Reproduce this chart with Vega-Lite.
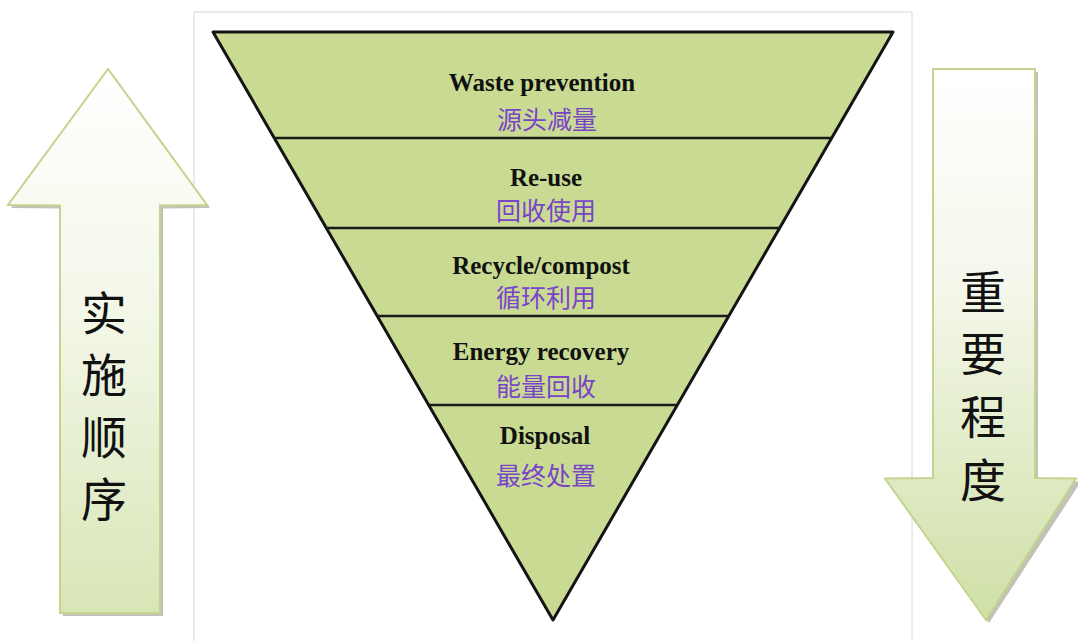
{
  "$schema": "https://vega.github.io/schema/vega-lite/v6.json",
  "width": 1078,
  "height": 641,
  "autosize": {"type": "none"},
  "padding": 0,
  "background": "white",
  "config": {"view": {"stroke": null}},
  "datasets": {
    "panel": [{"x": 194, "x2": 912, "y": 12, "y2": 650}],
    "upShadow": [
      {"y": 72, "x": 111, "x2": 111},
      {"y": 208, "x": 11, "x2": 210},
      {"y": 208.5, "x": 63, "x2": 163},
      {"y": 616, "x": 63, "x2": 163}
    ],
    "up": [
      {"y": 69, "x": 108, "x2": 108},
      {"y": 205, "x": 8, "x2": 207},
      {"y": 205.5, "x": 60, "x2": 160},
      {"y": 613, "x": 60, "x2": 160}
    ],
    "downShadow": [
      {"y": 72, "x": 936, "x2": 1038},
      {"y": 481, "x": 936, "x2": 1038},
      {"y": 481.5, "x": 888, "x2": 1081},
      {"y": 623, "x": 989, "x2": 989}
    ],
    "down": [
      {"y": 69, "x": 933, "x2": 1035},
      {"y": 478, "x": 933, "x2": 1035},
      {"y": 478.5, "x": 885, "x2": 1076},
      {"y": 620, "x": 986, "x2": 986}
    ],
    "triangle": [
      {"y": 32, "x": 213, "x2": 893},
      {"y": 620, "x": 553, "x2": 553}
    ],
    "dividers": [
      {"y": 138, "x": 274, "x2": 832},
      {"y": 228, "x": 326, "x2": 780},
      {"y": 316, "x": 377, "x2": 729},
      {"y": 405, "x": 429, "x2": 677}
    ],
    "english": [
      {"label": "Waste prevention", "x": 542, "y": 83},
      {"label": "Re-use", "x": 546, "y": 178},
      {"label": "Recycle/compost", "x": 541, "y": 266},
      {"label": "Energy recovery", "x": 541, "y": 352},
      {"label": "Disposal", "x": 545, "y": 436}
    ],
    "chinese": [
      {"label": "源头减量", "x": 547, "y": 121},
      {"label": "回收使用", "x": 546, "y": 212},
      {"label": "循环利用", "x": 546, "y": 299},
      {"label": "能量回收", "x": 546, "y": 388},
      {"label": "最终处置", "x": 546, "y": 477}
    ],
    "vertical": [
      {"label": "实", "x": 104, "y": 316},
      {"label": "施", "x": 104, "y": 378},
      {"label": "顺", "x": 104, "y": 440},
      {"label": "序", "x": 104, "y": 502},
      {"label": "重", "x": 983, "y": 295},
      {"label": "要", "x": 983, "y": 357},
      {"label": "程", "x": 983, "y": 420},
      {"label": "度", "x": 983, "y": 483}
    ]
  },
  "layer": [
    {
      "data": {"name": "panel"},
      "mark": {"type": "rect", "fill": "white", "stroke": "#d6d6d6", "strokeWidth": 1},
      "encoding": {
        "x": {"field": "x", "type": "quantitative", "scale": {"domain": [0, 1078]}, "axis": null},
        "x2": {"field": "x2"},
        "y": {"field": "y", "type": "quantitative", "scale": {"domain": [0, 641], "reverse": true}, "axis": null},
        "y2": {"field": "y2"}
      }
    },
    {
      "data": {"name": "upShadow"},
      "mark": {"type": "area", "orient": "horizontal", "fill": "#9a9a8a", "opacity": 0.6},
      "encoding": {
        "y": {"field": "y", "type": "quantitative", "scale": {"domain": [0, 641], "reverse": true}, "axis": null},
        "x": {"field": "x", "type": "quantitative", "scale": {"domain": [0, 1078]}, "axis": null},
        "x2": {"field": "x2"}
      }
    },
    {
      "data": {"name": "up"},
      "mark": {
        "type": "area", "orient": "horizontal", "stroke": "#c3d48e", "strokeWidth": 2,
        "fill": {"gradient": "linear", "x1": 0, "y1": 0, "x2": 0, "y2": 1,
          "stops": [{"offset": 0, "color": "#ffffff"}, {"offset": 0.45, "color": "#f3f7e8"}, {"offset": 1, "color": "#d8e6b6"}]}
      },
      "encoding": {
        "y": {"field": "y", "type": "quantitative", "scale": {"domain": [0, 641], "reverse": true}, "axis": null},
        "x": {"field": "x", "type": "quantitative", "scale": {"domain": [0, 1078]}, "axis": null},
        "x2": {"field": "x2"}
      }
    },
    {
      "data": {"name": "downShadow"},
      "mark": {"type": "area", "orient": "horizontal", "fill": "#9a9a8a", "opacity": 0.6},
      "encoding": {
        "y": {"field": "y", "type": "quantitative", "scale": {"domain": [0, 641], "reverse": true}, "axis": null},
        "x": {"field": "x", "type": "quantitative", "scale": {"domain": [0, 1078]}, "axis": null},
        "x2": {"field": "x2"}
      }
    },
    {
      "data": {"name": "down"},
      "mark": {
        "type": "area", "orient": "horizontal", "stroke": "#c3d48e", "strokeWidth": 2,
        "fill": {"gradient": "linear", "x1": 0, "y1": 0, "x2": 0, "y2": 1,
          "stops": [{"offset": 0, "color": "#ffffff"}, {"offset": 0.4, "color": "#f4f7ea"}, {"offset": 1, "color": "#cfe0a6"}]}
      },
      "encoding": {
        "y": {"field": "y", "type": "quantitative", "scale": {"domain": [0, 641], "reverse": true}, "axis": null},
        "x": {"field": "x", "type": "quantitative", "scale": {"domain": [0, 1078]}, "axis": null},
        "x2": {"field": "x2"}
      }
    },
    {
      "data": {"name": "triangle"},
      "mark": {"type": "area", "orient": "horizontal", "fill": "#c9db93", "fillOpacity": 1, "stroke": "#141414", "strokeWidth": 3, "strokeJoin": "round"},
      "encoding": {
        "y": {"field": "y", "type": "quantitative", "scale": {"domain": [0, 641], "reverse": true}, "axis": null},
        "x": {"field": "x", "type": "quantitative", "scale": {"domain": [0, 1078]}, "axis": null},
        "x2": {"field": "x2"}
      }
    },
    {
      "data": {"name": "dividers"},
      "mark": {"type": "rule", "color": "#1a1a1a", "strokeWidth": 2.5},
      "encoding": {
        "y": {"field": "y", "type": "quantitative", "scale": {"domain": [0, 641], "reverse": true}, "axis": null},
        "x": {"field": "x", "type": "quantitative", "scale": {"domain": [0, 1078]}, "axis": null},
        "x2": {"field": "x2"}
      }
    },
    {
      "data": {"name": "english"},
      "mark": {"type": "text", "font": "Liberation Serif", "fontWeight": "bold", "fontSize": 25, "color": "#111111", "align": "center", "baseline": "middle"},
      "encoding": {
        "y": {"field": "y", "type": "quantitative", "scale": {"domain": [0, 641], "reverse": true}, "axis": null},
        "x": {"field": "x", "type": "quantitative", "scale": {"domain": [0, 1078]}, "axis": null},
        "text": {"field": "label"}
      }
    },
    {
      "data": {"name": "chinese"},
      "mark": {"type": "text", "font": "Noto Sans CJK SC", "fontSize": 25, "color": "#7a44c8", "align": "center", "baseline": "middle"},
      "encoding": {
        "y": {"field": "y", "type": "quantitative", "scale": {"domain": [0, 641], "reverse": true}, "axis": null},
        "x": {"field": "x", "type": "quantitative", "scale": {"domain": [0, 1078]}, "axis": null},
        "text": {"field": "label"}
      }
    },
    {
      "data": {"name": "vertical"},
      "mark": {"type": "text", "font": "Noto Sans CJK SC", "fontSize": 46, "color": "#111111", "align": "center", "baseline": "middle"},
      "encoding": {
        "y": {"field": "y", "type": "quantitative", "scale": {"domain": [0, 641], "reverse": true}, "axis": null},
        "x": {"field": "x", "type": "quantitative", "scale": {"domain": [0, 1078]}, "axis": null},
        "text": {"field": "label"}
      }
    }
  ]
}
